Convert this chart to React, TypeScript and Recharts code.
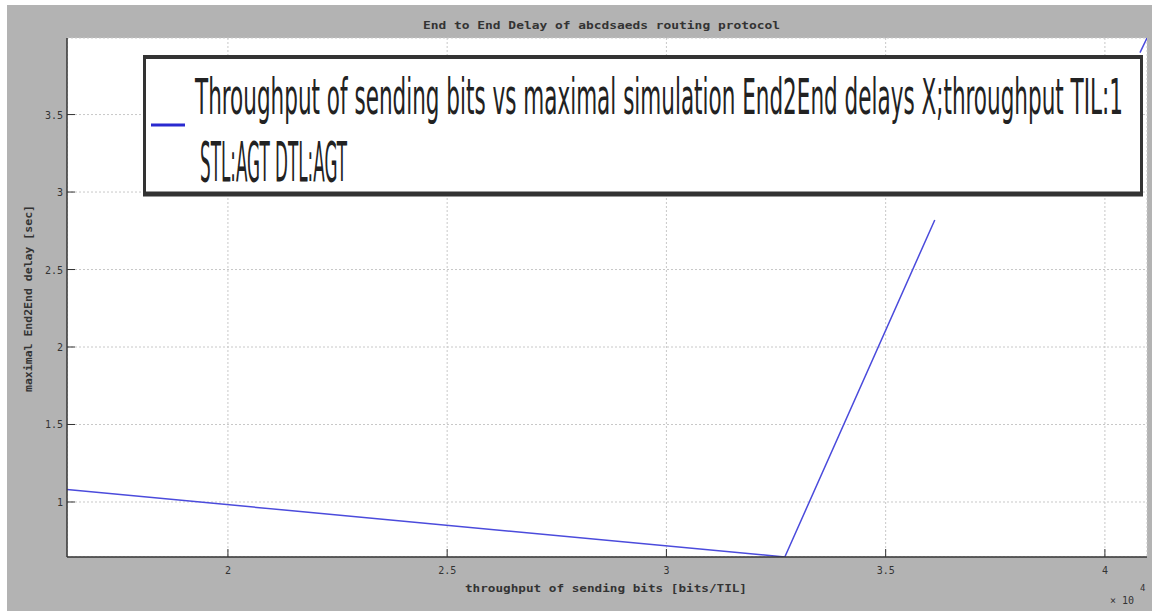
import React from "react";
import {
  LineChart,
  Line,
  XAxis,
  YAxis,
  CartesianGrid,
  Legend,
  Customized,
} from "recharts";

// ---- data (throughput in units of 10^4 bits/TIL, delay in sec) ----
// null marks the gap where the curve is not drawn in the reference
const throughput = [1.633, 3.27, 3.612, 3.85, 4.08, 4.096];
const maxDelay: (number | null)[] = [1.08, 0.645, 2.82, null, 3.9, 3.994];

const xTicks = [2, 2.5, 3, 3.5, 4];
const yTicks = [1, 1.5, 2, 2.5, 3, 3.5];
const xDomain: [number, number] = [1.633, 4.096];
const yDomain: [number, number] = [0.645, 3.994];

const titleText = "End to End Delay of abcdsaeds routing protocol";
const xLabelText = "throughput of sending bits [bits/TIL]";
const yLabelText = "maximal End2End delay [sec]";
const legendLines = [
  "Throughput of sending bits vs maximal simulation End2End delays X;throughput TIL:1",
  "STL:AGT DTL:AGT",
];

const data = throughput.map((x, i) => ({ x, y: maxDelay[i] }));

const AXIS = "#333333";
const LINE = "#4b4bdc";
const MONO = "'DejaVu Sans Mono', 'Liberation Mono', monospace";
const NARROW = "'Liberation Sans Narrow', 'DejaVu Sans Condensed', 'DejaVu Sans', sans-serif";

const fmt = (v: number) => String(v);

const BottomTick = (p: any) => {
  const { x, y, payload } = p;
  return (
    <g>
      <line x1={x} x2={x} y1={y} y2={y - 8} stroke={AXIS} strokeWidth={1} />
      <text x={x} y={y + 17} textAnchor="middle" fontSize={10} fontFamily={MONO} fill="#333">
        {fmt(payload.value)}
      </text>
    </g>
  );
};
const TopTick = (p: any) => {
  const { x, y } = p;
  return <line x1={x} x2={x} y1={y} y2={y + 8} stroke={AXIS} strokeWidth={1} />;
};
const LeftTick = (p: any) => {
  const { x, y, payload } = p;
  return (
    <g>
      <line x1={x} x2={x + 8} y1={y} y2={y} stroke={AXIS} strokeWidth={1} />
      <text x={x - 4} y={y + 4} textAnchor="end" fontSize={10} fontFamily={MONO} fill="#333">
        {fmt(payload.value)}
      </text>
    </g>
  );
};
const RightTick = (p: any) => {
  const { x, y } = p;
  return <line x1={x} x2={x - 8} y1={y} y2={y} stroke={AXIS} strokeWidth={1} />;
};

const Texts = () => (
  <g>
    <text x={423} y={29} fontSize={10} fontFamily={MONO} fontWeight="bold" fill="#333"
      textLength={357} lengthAdjust="spacingAndGlyphs">{titleText}</text>
    <text x={465} y={592} fontSize={10} fontFamily={MONO} fontWeight="bold" fill="#333"
      textLength={282} lengthAdjust="spacingAndGlyphs">{xLabelText}</text>
    <text x={0} y={0} fontSize={10} fontFamily={MONO} fontWeight="bold" fill="#333"
      textLength={187} lengthAdjust="spacingAndGlyphs"
      transform="translate(32,392) rotate(-90)">{yLabelText}</text>
    <text x={1110} y={604} fontSize={10} fontFamily={MONO} fill="#333">× 10</text>
    <text x={1140} y={591} fontSize={9} fontFamily={MONO} fill="#333">4</text>
  </g>
);

const LegendBox = () => (
  <svg width={1000} height={142} style={{ display: "block" }}>
    <rect x={1.5} y={2} width={997} height={137} fill="#ffffff" stroke="#333" strokeWidth={3} />
    <line x1={0} x2={1000} y1={2} y2={2} stroke="#333" strokeWidth={4} />
    <line x1={0} x2={1000} y1={139} y2={139} stroke="#333" strokeWidth={5} />
    <line x1={8} x2={42} y1={70} y2={70} stroke="#2a2ad0" strokeWidth={3} />
    <text transform="translate(52,59) scale(1,2.3)" x={0} y={0} fontSize={22} fill="#222"
      fontFamily={NARROW} textLength={928} lengthAdjust="spacingAndGlyphs">{legendLines[0]}</text>
    <text transform="translate(57,126) scale(1,2.4)" x={0} y={0} fontSize={23} fill="#222"
      fontFamily={NARROW} textLength={147} lengthAdjust="spacingAndGlyphs">{legendLines[1]}</text>
  </svg>
);

export default function App() {
  return (
    <div style={{ position: "absolute", left: 0, top: 0, width: 1152, height: 611, background: "#ffffff" }}>
      <div style={{ position: "absolute", left: 7, top: 5, width: 1145, height: 606, background: "#b3b3b3" }} />
      <div style={{ position: "absolute", left: 0, top: 0 }}>
        <LineChart
          width={1152}
          height={611}
          data={data}
          margin={{ top: 38, right: 5, left: 27, bottom: 24 }}
        >
          <CartesianGrid
            xAxisId="b"
            yAxisId="l"
            fill="#ffffff"
            stroke="#c8c8c8"
            strokeDasharray="2 2"
          />
          <XAxis
            xAxisId="b"
            dataKey="x"
            type="number"
            orientation="bottom"
            domain={xDomain}
            ticks={xTicks}
            allowDataOverflow
            height={30}
            tickSize={0}
            tickMargin={0}
            tickLine={false}
            axisLine={{ stroke: AXIS, strokeWidth: 1.5 }}
            tick={<BottomTick />}
            interval={0}
          />
          <XAxis
            xAxisId="t"
            dataKey="x"
            type="number"
            orientation="top"
            domain={xDomain}
            ticks={xTicks}
            allowDataOverflow
            height={0}
            tickSize={0}
            tickMargin={0}
            tickLine={false}
            axisLine={{ stroke: AXIS, strokeWidth: 1.5 }}
            tick={<TopTick />}
            interval={0}
          />
          <YAxis
            yAxisId="l"
            type="number"
            orientation="left"
            domain={yDomain}
            ticks={yTicks}
            allowDataOverflow
            width={40}
            tickSize={0}
            tickMargin={0}
            tickLine={false}
            axisLine={{ stroke: AXIS, strokeWidth: 1.5 }}
            tick={<LeftTick />}
            interval={0}
          />
          <YAxis
            yAxisId="r"
            type="number"
            orientation="right"
            domain={yDomain}
            ticks={yTicks}
            allowDataOverflow
            width={0}
            tickSize={0}
            tickMargin={0}
            tickLine={false}
            axisLine={{ stroke: AXIS, strokeWidth: 1.5 }}
            tick={<RightTick />}
            interval={0}
          />
          <Line
            xAxisId="b"
            yAxisId="l"
            type="linear"
            dataKey="y"
            name={legendLines.join(" ")}
            stroke={LINE}
            strokeWidth={1.5}
            dot={false}
            connectNulls={false}
            isAnimationActive={false}
          />
          <Legend
            layout="horizontal"
            verticalAlign="middle"
            align="center"
            wrapperStyle={{ left: 143, top: 55, width: 1000, height: 142 }}
            content={() => <LegendBox />}
          />
          <Customized component={Texts} />
        </LineChart>
      </div>
    </div>
  );
}
